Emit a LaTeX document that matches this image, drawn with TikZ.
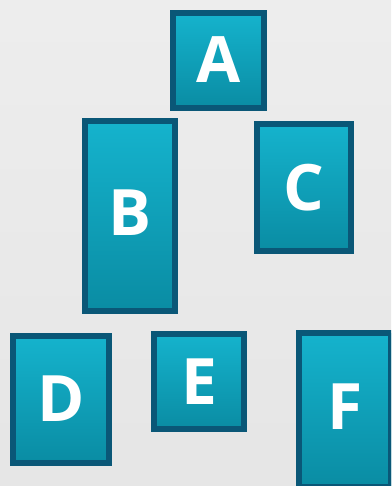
\documentclass[tikz,border=0pt]{standalone}
\usepackage{fontspec}
\setmainfont{Open Sans}
\begin{document}
\begin{tikzpicture}[x=1pt,y=-1pt,
  box/.style={draw=boxborder, line width=6pt, top color=boxtop, bottom color=boxbot,
    inner sep=0pt, text=white, font=\fontsize{64}{64}\selectfont\bfseries},
]
\definecolor{boxborder}{HTML}{0A5777}
\definecolor{boxtop}{HTML}{15B3CD}
\definecolor{boxbot}{HTML}{0A8CA3}
\useasboundingbox (0,0) rectangle (391,486);
\clip (0,0) rectangle (391,486);
\fill[top color=black!7, middle color=black!17, bottom color=black!10] (0,0) rectangle (391,486);
\node[box, minimum width=91pt, minimum height=95pt] (A) at (218.5,60.5) {\raisebox{1pt}{A}};
\node[box, minimum width=90pt, minimum height=190pt] (B) at (130,216) {\raisebox{7pt}{B}};
\node[box, minimum width=94pt, minimum height=127pt] (C) at (304,187.5) {\raisebox{-4pt}{C}};
\node[box, minimum width=96pt, minimum height=127pt] (D) at (61,399.5) {\raisebox{2pt}{D}};
\node[box, minimum width=90pt, minimum height=95pt] (E) at (199,381.5) {\raisebox{-1pt}{E}};
\node[box, minimum width=92pt, minimum height=154pt] (F) at (345,410) {\raisebox{7pt}{F}};
\end{tikzpicture}
\end{document}
